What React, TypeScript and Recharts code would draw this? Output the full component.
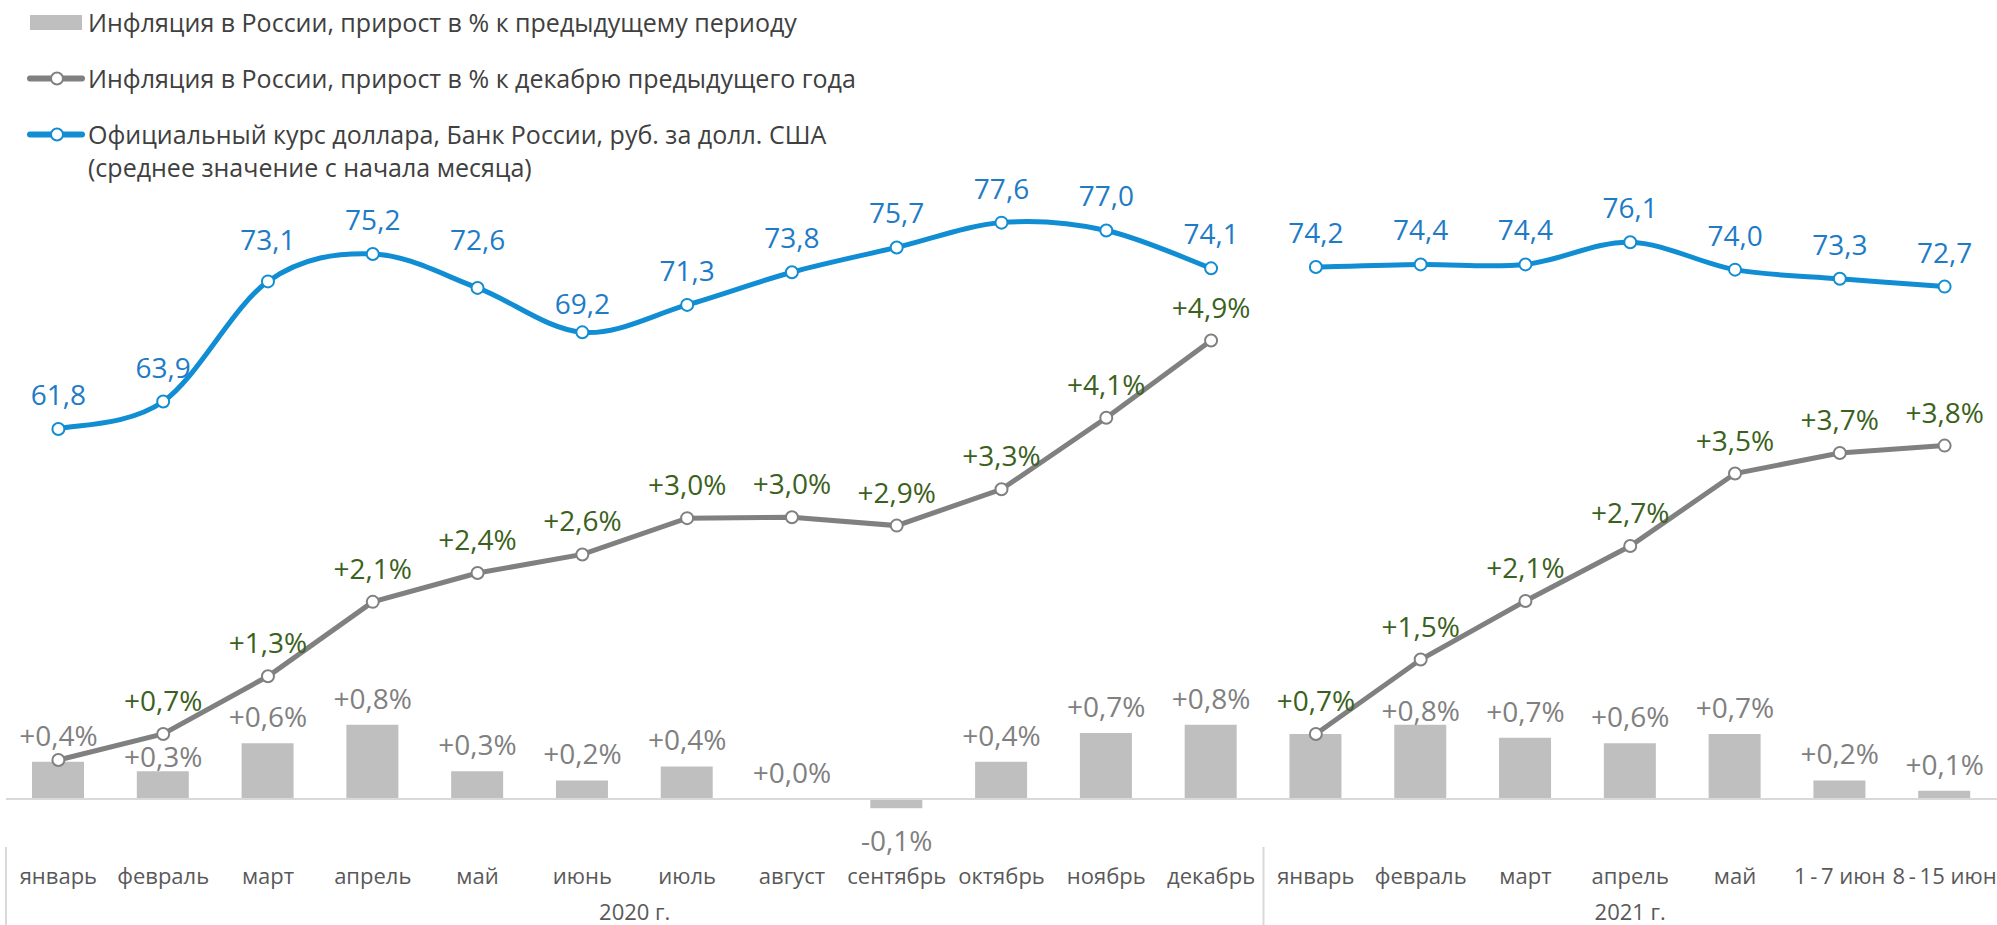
import React from "react";
import {
  ComposedChart,
  Bar,
  Line,
  XAxis,
  YAxis,
  LabelList,
  ReferenceLine,
} from "recharts";

const categories = [
  "январь", "февраль", "март", "апрель", "май", "июнь", "июль", "август",
  "сентябрь", "октябрь", "ноябрь", "декабрь",
  "январь", "февраль", "март", "апрель", "май", "1\u2009-\u20097 июн", "8\u2009-\u200915 июн",
];
const yearGroups = [
  { label: "2020 г.", count: 12 },
  { label: "2021 г.", count: 7 },
];

// % к предыдущему периоду
const monthlyCpi = [0.4, 0.3, 0.6, 0.8, 0.3, 0.2, 0.35, 0.0, -0.1, 0.4, 0.71, 0.8, 0.7, 0.8, 0.66, 0.6, 0.7, 0.2, 0.09];
// % к декабрю предыдущего года
const cumulative2020 = [0.42, 0.7, 1.32, 2.12, 2.43, 2.63, 3.02, 3.03, 2.94, 3.33, 4.1, 4.93];
const cumulative2021 = [0.7, 1.5, 2.13, 2.72, 3.5, 3.72, 3.8];
// курс доллара, руб.
const usd2020 = [61.8, 63.9, 73.1, 75.2, 72.6, 69.2, 71.3, 73.8, 75.7, 77.6, 77.0, 74.1];
const usd2021 = [74.2, 74.4, 74.4, 76.1, 74.0, 73.3, 72.7];

const n2020 = cumulative2020.length;
const data = categories.map((name, i) => ({
  key: `p${i}`,
  name,
  monthly: monthlyCpi[i],
  cum2020: i < n2020 ? cumulative2020[i] : null,
  cum2021: i >= n2020 ? cumulative2021[i - n2020] : null,
  usd2020: i < n2020 ? usd2020[i] : null,
  usd2021: i >= n2020 ? usd2021[i - n2020] : null,
}));

const W = 1997;
const H = 925;
const LEFT = 6;
const BAND = (W - LEFT) / categories.length;
const FONT = "'Open Sans', 'Noto Sans', sans-serif";
const LABEL_SIZE = 28;

const GREY_LINE = "#808080";
const BLUE = "#118dd3";
const BLUE_TEXT = "#1e7bc6";
const GREEN = "#3b6120";
const BAR = "#bfbfbf";
const BAR_TEXT = "#808080";

const pct = (v: number) => {
  const r = Math.round(v * 10) / 10;
  return (r >= 0 ? "+" : "") + r.toFixed(1).replace(".", ",") + "%";
};
const rub = (v: number) => v.toFixed(1).replace(".", ",");

// сглаживание как в Excel (Catmull-Rom)
const excelSmooth = (context: any) => {
  let pts: number[][] = [];
  return {
    areaStart() {},
    areaEnd() {},
    lineStart() {
      pts = [];
    },
    point(x: number, y: number) {
      pts.push([+x, +y]);
    },
    lineEnd() {
      if (!pts.length) return;
      context.moveTo(pts[0][0], pts[0][1]);
      for (let i = 0; i < pts.length - 1; i++) {
        const p0 = pts[i - 1] || pts[i];
        const p1 = pts[i];
        const p2 = pts[i + 1];
        const p3 = pts[i + 2] || p2;
        context.bezierCurveTo(
          p1[0] + (p2[0] - p0[0]) / 6,
          p1[1] + (p2[1] - p0[1]) / 6,
          p2[0] - (p3[0] - p1[0]) / 6,
          p2[1] - (p3[1] - p1[1]) / 6,
          p2[0],
          p2[1]
        );
      }
    },
  };
};

const pointXY = (props: any) => ({
  x: props.x ?? props.viewBox?.x,
  y: props.y ?? props.viewBox?.y,
});
const indexAt = (x: number) => Math.round((x - LEFT) / BAND - 0.5);

// подписи столбцов (через невидимую линию, чтобы была и подпись +0,0%)
const BarLabel = (props: any) => {
  const { value } = props;
  if (value == null) return null;
  const { x, y } = pointXY(props);
  const i = indexAt(x);
  if (i === 12) return null;
  let ty = y - 27;
  if (value < 0) ty = y + 32;
  if (i === 1 || i === 13) ty = y - 15;
  return (
    <text x={x} y={ty} textAnchor="middle" dominantBaseline="central"
      fill={BAR_TEXT} fontSize={LABEL_SIZE} fontFamily={FONT}>
      {pct(value)}
    </text>
  );
};

const CumLabel = (props: any) => {
  const { value } = props;
  if (value == null) return null;
  const { x, y } = pointXY(props);
  if (indexAt(x) === 0) return null;
  return (
    <text x={x} y={y - 34} textAnchor="middle" dominantBaseline="central"
      fill={GREEN} fontSize={LABEL_SIZE} fontFamily={FONT}>
      {pct(value)}
    </text>
  );
};

// несколько подписей курса сдвинуты вручную, как на исходном слайде
const usdShift: Record<number, number> = { 2: 7, 4: 14, 5: -6 };

const UsdLabel = (props: any) => {
  const { value } = props;
  if (value == null) return null;
  const { x, y } = pointXY(props);
  const shift = usdShift[indexAt(x)] || 0;
  return (
    <text x={x} y={y - 35 - shift} textAnchor="middle" dominantBaseline="central"
      fill={BLUE_TEXT} fontSize={LABEL_SIZE} fontFamily={FONT}>
      {rub(value)}
    </text>
  );
};

const PeriodTick = (props: any) => {
  const { x, y, index } = props;
  const parts: React.ReactNode[] = [];
  parts.push(
    <text key="t" x={x} y={y + 25} textAnchor="middle" dominantBaseline="central"
      fill="#595959" fontSize={22} fontFamily={FONT}>
      {categories[index]}
    </text>
  );
  let start = 0;
  yearGroups.forEach((g, gi) => {
    const end = start + g.count - 1;
    if (index === start && gi === 0) {
      parts.push(<line key="s0" x1={x - BAND / 2} x2={x - BAND / 2} y1={y - 3} y2={H} stroke="#d9d9d9" strokeWidth={2} />);
    }
    if (index === end && gi < yearGroups.length - 1) {
      parts.push(<line key="s1" x1={x + BAND / 2} x2={x + BAND / 2} y1={y - 3} y2={H} stroke="#d9d9d9" strokeWidth={2} />);
    }
    const mid = (start + end) / 2;
    if (index === Math.floor(mid)) {
      parts.push(
        <text key="y" x={x + (mid - index) * BAND} y={y + 61} textAnchor="middle" dominantBaseline="central"
          fill="#595959" fontSize={22} fontFamily={FONT}>
          {g.label}
        </text>
      );
    }
    start = end + 1;
  });
  return <g>{parts}</g>;
};

const LegendIcon = ({ kind }: { kind: string }) => {
  if (kind === "bar") {
    return (
      <svg width={60} height={33} style={{ position: "absolute", left: 26, top: 0 }}>
        <rect x={4} y={9} width={52} height={15} fill={BAR} />
      </svg>
    );
  }
  const c = kind === "blue" ? BLUE : GREY_LINE;
  return (
    <svg width={60} height={33} style={{ position: "absolute", left: 26, top: 0 }}>
      <line x1={4} x2={56} y1={16.5} y2={16.5} stroke={c} strokeWidth={6} strokeLinecap="round" />
      <circle cx={31} cy={16.5} r={6} fill="#fff" stroke={c} strokeWidth={2} />
    </svg>
  );
};

const legendRows = [
  { kind: "bar", top: 6, lines: ["Инфляция в России, прирост в % к предыдущему периоду"] },
  { kind: "grey", top: 62, lines: ["Инфляция в России, прирост в % к декабрю предыдущего года"] },
  {
    kind: "blue",
    top: 118,
    lines: ["Официальный курс доллара, Банк России, руб. за долл. США", "(среднее значение с начала месяца)"],
  },
];

export default function App() {
  return (
    <div style={{ position: "absolute", left: 0, top: 0, width: W, height: H, background: "#fff" }}>
      <ComposedChart width={W} height={H} data={data} margin={{ top: 100, right: 0, bottom: 0, left: LEFT }}>
        <XAxis dataKey="key" height={75} axisLine={false} tickLine={false} tickSize={0} tickMargin={0}
          interval={0} tick={<PeriodTick />} />
        <YAxis yAxisId="pct" hide domain={[-0.548, 7.516]} allowDataOverflow />
        <YAxis yAxisId="usd" hide orientation="right" domain={[29.56, 86.99]} allowDataOverflow />
        <ReferenceLine yAxisId="pct" y={0} stroke="#d9d9d9" strokeWidth={2} />
        <Bar yAxisId="pct" dataKey="monthly" fill={BAR} barSize={52} isAnimationActive={false} />
        <Line yAxisId="pct" dataKey="monthly" stroke="none" dot={false} activeDot={false}
          isAnimationActive={false}>
          <LabelList dataKey="monthly" content={<BarLabel />} />
        </Line>
        {["cum2020", "cum2021"].map((k) => (
          <Line key={k} yAxisId="pct" dataKey={k} type="linear" stroke={GREY_LINE} strokeWidth={5}
            dot={{ r: 6, fill: "#fff", stroke: GREY_LINE, strokeWidth: 2 }} activeDot={false}
            isAnimationActive={false}>
            <LabelList dataKey={k} content={<CumLabel />} />
          </Line>
        ))}
        {["usd2020", "usd2021"].map((k) => (
          <Line key={k} yAxisId="usd" dataKey={k} type={excelSmooth as any} stroke={BLUE} strokeWidth={5}
            dot={{ r: 6, fill: "#fff", stroke: BLUE, strokeWidth: 2 }} activeDot={false}
            isAnimationActive={false}>
            <LabelList dataKey={k} content={<UsdLabel />} />
          </Line>
        ))}
      </ComposedChart>
      {legendRows.map((row) => (
        <div key={row.kind} style={{ position: "absolute", left: 0, top: row.top, width: 900 }}>
          <LegendIcon kind={row.kind} />
          <div style={{ marginLeft: 88, fontFamily: FONT, fontSize: 25, lineHeight: "33px", color: "#404040" }}>
            {row.lines.map((t) => (
              <div key={t}>{t}</div>
            ))}
          </div>
        </div>
      ))}
    </div>
  );
}
